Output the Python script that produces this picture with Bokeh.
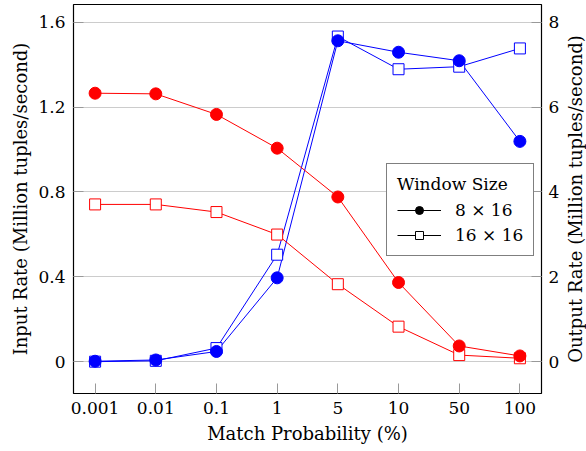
import math
from bokeh.plotting import figure
from bokeh.layouts import row
from bokeh.models import (Range1d, LinearAxis, FixedTicker, NumeralTickFormatter,
                          Legend, LegendItem, ColumnDataSource, Title)
from bokeh.embed import file_html
from bokeh.resources import INLINE

categories = ["0.001", "0.01", "0.1", "1", "5", "10", "50", "100"]
input_8x16 = [1.265, 1.262, 1.165, 1.006, 0.776, 0.373, 0.074, 0.027]
input_16x16 = [0.741, 0.741, 0.705, 0.599, 0.365, 0.165, 0.031, 0.016]
output_8x16 = [0.01, 0.04, 0.24, 1.975, 7.56, 7.29, 7.09, 5.19]
output_16x16 = [0.0, 0.02, 0.32, 2.52, 7.66, 6.89, 6.95, 7.38]
left_ticks = [0, 0.4, 0.8, 1.2, 1.6]
right_ticks = [0, 2, 4, 6, 8]

FONT = "DejaVu Serif"
TICK_FS = "17px"
LABEL_FS = "18px"
RED = "#ff0000"
BLUE = "#0000ff"

MAIN_W = 562
SIDE_W = 586 - MAIN_W

x = list(range(len(categories)))
src = ColumnDataSource(dict(x=x, i8=input_8x16, i16=input_16x16,
                            o8=output_8x16, o16=output_16x16))

p = figure(width=MAIN_W, height=451, output_backend="svg", toolbar_location=None,
           x_range=Range1d(-0.356, len(categories) - 1 + 0.356),
           y_range=Range1d(-0.15, 1.683),
           min_border_left=73, min_border_right=MAIN_W - 543, min_border_top=4,
           min_border_bottom=58)
p.extra_y_ranges = {"out": Range1d(-0.75, 8.415)}

p.outline_line_color = "black"
p.outline_line_width = 1.2
p.background_fill_color = "white"
p.border_fill_color = "white"
p.xgrid.visible = False
p.ygrid.ticker = FixedTicker(ticks=left_ticks)
p.ygrid.grid_line_color = "#cccccc"
p.ygrid.grid_line_width = 1

def style_axis(ax):
    ax.axis_line_color = None
    ax.major_tick_in = 10
    ax.major_tick_out = 0
    ax.minor_tick_line_color = None
    ax.major_tick_line_color = "#999999"
    ax.major_label_text_font = FONT
    ax.major_label_text_font_size = TICK_FS
    ax.major_label_text_color = "black"
    ax.axis_label_text_font = FONT
    ax.axis_label_text_font_size = LABEL_FS
    ax.axis_label_text_font_style = "normal"
    ax.axis_label_text_color = "black"
    ax.major_label_standoff = 8

xa = p.xaxis[0]
xa.ticker = FixedTicker(ticks=x)
xa.major_label_overrides = {i: c for i, c in zip(x, categories)}
xa.axis_label = "Match Probability (%)"
style_axis(xa)
xa.axis_label_standoff = 6

ya = p.yaxis[0]
ya.ticker = FixedTicker(ticks=left_ticks)
ya.formatter = NumeralTickFormatter(format="0.[0]")
ya.axis_label = "Input Rate (Million tuples/second)"
style_axis(ya)
ya.axis_label_standoff = 4

ra = LinearAxis(y_range_name="out", ticker=FixedTicker(ticks=right_ticks))
style_axis(ra)
ra.major_label_standoff = 7
p.add_layout(ra, "right")

# blue series (output rate, right axis)
p.line("x", "o16", source=src, y_range_name="out", color=BLUE, line_width=1)
p.line("x", "o8", source=src, y_range_name="out", color=BLUE, line_width=1)
p.scatter("x", "o16", source=src, y_range_name="out", marker="square", size=11,
          line_color=BLUE, fill_color="white", line_width=1)
p.scatter("x", "o8", source=src, y_range_name="out", marker="circle", size=12,
          line_color=BLUE, fill_color=BLUE)

# red series (input rate, left axis)
p.line("x", "i16", source=src, color=RED, line_width=1)
p.line("x", "i8", source=src, color=RED, line_width=1)
p.scatter("x", "i16", source=src, marker="square", size=11,
          line_color=RED, fill_color="white", line_width=1)
p.scatter("x", "i8", source=src, marker="circle", size=12,
          line_color=RED, fill_color=RED)

# legend proxies (placed outside the visible range)
proxy = ColumnDataSource(dict(x=[-50, -49], y=[-50, -50]))
l1 = p.line("x", "y", source=proxy, color="black", line_width=1)
m1 = p.scatter("x", "y", source=proxy, marker="circle", size=12, color="black")
l2 = p.line("x", "y", source=proxy, color="black", line_width=1)
m2 = p.scatter("x", "y", source=proxy, marker="square", size=11,
               line_color="black", fill_color="white")

legend = Legend(items=[LegendItem(label="8 × 16", renderers=[l1, m1]),
                       LegendItem(label="16 × 16", renderers=[l2, m2])],
                location=(313, 137), title="Window Size")
legend.title_text_font = FONT
legend.title_text_font_size = "17px"
legend.title_text_font_style = "normal"
legend.title_text_color = "black"
legend.title_standoff = 6
legend.label_text_font = FONT
legend.label_text_font_size = "17px"
legend.label_text_color = "black"
legend.border_line_color = "black"
legend.border_line_width = 1
legend.glyph_width = 44
legend.label_standoff = 14
legend.padding = 10
legend.spacing = 5
legend.background_fill_alpha = 1
p.add_layout(legend)

# narrow companion panel carrying the right-hand axis title (reads bottom to top)
side = figure(width=SIDE_W, height=451, output_backend="svg", toolbar_location=None,
              x_axis_location=None, y_axis_location=None,
              min_border_left=0, min_border_right=0, min_border_top=4,
              min_border_bottom=58)
side.outline_line_color = None
side.grid.visible = False
side.border_fill_color = "white"
side.background_fill_color = "white"
side.add_layout(Title(text="Output Rate (Million tuples/second)", align="center",
                      text_font=FONT, text_font_size=LABEL_FS,
                      text_font_style="normal", text_color="black",
                      standoff=0, offset=0), "left")

layout = row(p, side, spacing=0)
open("out.html", "w").write(file_html(layout, INLINE))
